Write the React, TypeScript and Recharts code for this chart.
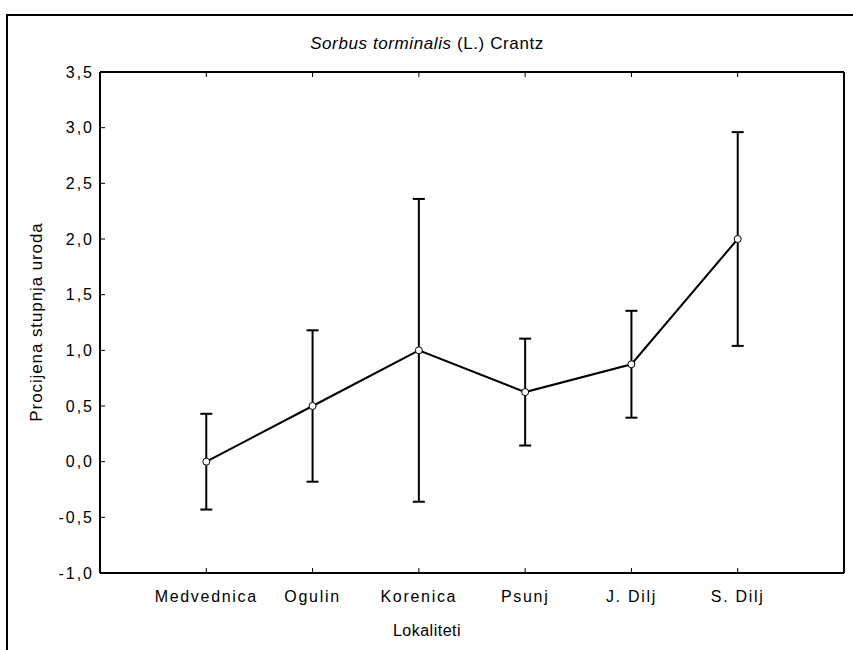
import React from 'react';
import { LineChart, Line, XAxis, YAxis, ErrorBar, Customized } from 'recharts';

const categories = ['Medvednica', 'Ogulin', 'Korenica', 'Psunj', 'J. Dilj', 'S. Dilj'];
const positions = [1, 2, 3, 4, 5, 6];
const means = [0.0, 0.5, 1.0, 0.625, 0.875, 2.0];
const errors = [0.43, 0.68, 1.36, 0.48, 0.48, 0.96];
const yTicks = [-1.0, -0.5, 0.0, 0.5, 1.0, 1.5, 2.0, 2.5, 3.0, 3.5];

const data = categories.map((name, i) => ({ x: positions[i], name, mean: means[i], err: errors[i] }));

const FONT = '"Liberation Sans", Arial, sans-serif';
const W = 853;
const H = 650;

const fmt = (v: number) => v.toFixed(1).replace('.', ',');
const catLabel = (v: number) => categories[positions.indexOf(v)] ?? '';

const Dot = (props: any) => {
  const { cx, cy } = props;
  if (cx == null || cy == null) return null;
  return <circle cx={cx} cy={cy} r={3.5} fill="#fff" stroke="#000" strokeWidth={1} />;
};

const Texts = () => (
  <g fontFamily={FONT} fill="#000">
    <text x={427} y={49} fontSize={17} textAnchor="middle" letterSpacing={0.6}>
      <tspan fontStyle="italic">Sorbus torminalis</tspan>
      <tspan> (L.) Crantz</tspan>
    </text>
    <text x={427} y={636} fontSize={16} textAnchor="middle" letterSpacing={0.5}>Lokaliteti</text>
    <text
      x={36}
      y={322}
      fontSize={17}
      textAnchor="middle"
      dominantBaseline="central"
      transform="rotate(-90 36 322)"
      letterSpacing={0.9}
    >
      Procijena stupnja uroda
    </text>
  </g>
);

const noTick = () => <g />;

export default function App() {
  return (
    <div style={{ position: 'absolute', left: 0, top: 0, width: W, height: H, overflow: 'hidden', background: '#fff' }}>
      <div
        style={{
          position: 'absolute',
          left: 6,
          top: 14,
          width: 900,
          height: 700,
          border: '2px solid #000',
          boxSizing: 'border-box',
        }}
      />
      <div style={{ position: 'absolute', left: 0, top: 0 }}>
        <LineChart width={W} height={H} data={data} margin={{ top: 71, right: 8, bottom: 47, left: 0 }}>
          <XAxis
            xAxisId="b"
            type="number"
            dataKey="x"
            domain={[0, 7]}
            ticks={positions}
            tickFormatter={catLabel}
            height={30}
            axisLine={{ stroke: '#000', strokeWidth: 2 }}
            tickLine={{ stroke: '#000', strokeWidth: 1 }}
            tickSize={-5}
            tickMargin={23}
            tick={{ fill: '#000', fontSize: 16, fontFamily: FONT, letterSpacing: 1.7 }}
            interval={0}
          />
          <XAxis
            xAxisId="t"
            orientation="top"
            type="number"
            dataKey="x"
            domain={[0, 7]}
            ticks={positions}
            height={1}
            axisLine={{ stroke: '#000', strokeWidth: 2 }}
            tickLine={{ stroke: '#000', strokeWidth: 1 }}
            tickSize={-5}
            tick={noTick}
            interval={0}
          />
          <YAxis
            yAxisId="l"
            type="number"
            domain={[-1, 3.5]}
            ticks={yTicks}
            tickFormatter={fmt}
            width={100}
            axisLine={{ stroke: '#000', strokeWidth: 2 }}
            tickLine={{ stroke: '#000', strokeWidth: 1 }}
            tickSize={-5}
            tickMargin={11}
            tick={{ fill: '#000', fontSize: 16, fontFamily: FONT, letterSpacing: 2 }}
            interval={0}
          />
          <YAxis
            yAxisId="r"
            orientation="right"
            type="number"
            domain={[-1, 3.5]}
            ticks={yTicks}
            width={1}
            axisLine={{ stroke: '#000', strokeWidth: 2 }}
            tickLine={{ stroke: '#000', strokeWidth: 1 }}
            tickSize={-5}
            tick={noTick}
            interval={0}
          />
          <Line
            xAxisId="b"
            yAxisId="l"
            type="linear"
            dataKey="mean"
            stroke="#000"
            strokeWidth={2}
            dot={<Dot />}
            activeDot={false}
            isAnimationActive={false}
          >
            <ErrorBar dataKey="err" direction="y" width={6} stroke="#000" strokeWidth={2} />
          </Line>
          <Customized component={Texts} />
        </LineChart>
      </div>
    </div>
  );
}
